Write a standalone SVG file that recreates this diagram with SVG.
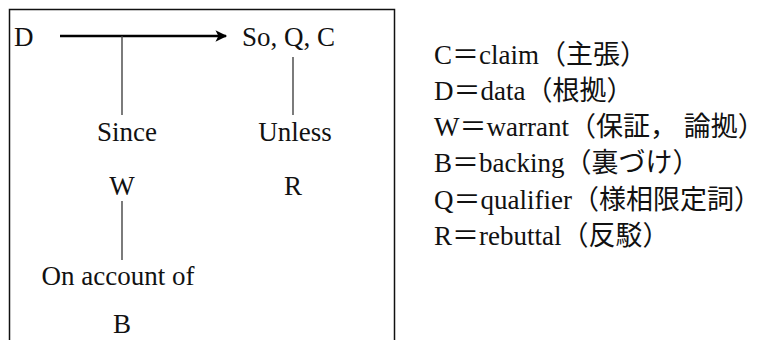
<svg xmlns="http://www.w3.org/2000/svg" width="772" height="340" viewBox="0 0 772 340">
  <style>
    text { font-family: "Liberation Serif", "Noto Sans CJK JP", serif; font-size: 27px; fill: #111; }
    .mid { text-anchor: middle; }
    .link { stroke: #444; stroke-width: 1.4; fill: none; }
    .main { stroke: #000; stroke-width: 2.6; fill: none; }
    .frame { stroke: #111; stroke-width: 1.5; fill: #fff; }
    .legend { font-size: 27px; }
  </style>
  <defs>
    <marker id="head" viewBox="0 0 10 10" refX="9" refY="5" markerWidth="6" markerHeight="4.5" markerUnits="strokeWidth" orient="auto">
      <path d="M0,0 L10,5 L0,10 L2.5,5 Z" fill="#000"/>
    </marker>
  </defs>
  <rect width="772" height="340" fill="#fff"/>
  <!-- open-bottomed frame around the Toulmin layout -->
  <rect class="frame" x="9.5" y="9.5" width="385" height="340"/>

  <g id="connectors">
    <line class="main" x1="60" y1="36" x2="226" y2="36" marker-end="url(#head)"/>
    <line class="link" x1="122" y1="36" x2="122" y2="115"/>
    <line class="link" x1="293" y1="57" x2="293" y2="115"/>
    <line class="link" x1="122" y1="201" x2="122" y2="260"/>
  </g>

  <g id="data"><text x="14" y="46">D</text></g>
  <g id="claim"><text x="242" y="46">So, Q, C</text></g>
  <g id="since"><text class="mid" x="127" y="141">Since</text></g>
  <g id="warrant"><text class="mid" x="122" y="195">W</text></g>
  <g id="unless"><text class="mid" x="295" y="141">Unless</text></g>
  <g id="rebuttal"><text class="mid" x="293" y="195">R</text></g>
  <g id="onaccount"><text class="mid" x="118" y="285">On account of</text></g>
  <g id="backing"><text class="mid" x="122" y="333">B</text></g>

  <g id="legend">
    <text class="legend" x="434" y="64">C＝claim（主張）</text>
    <text class="legend" x="434" y="100">D＝data（根拠）</text>
    <text class="legend" x="434" y="136" xml:space="preserve">W＝warrant（保証， 論拠）</text>
    <text class="legend" x="434" y="172">B＝backing（裏づけ）</text>
    <text class="legend" x="434" y="209">Q＝qualifier（様相限定詞）</text>
    <text class="legend" x="434" y="245">R＝rebuttal（反駁）</text>
  </g>
</svg>
